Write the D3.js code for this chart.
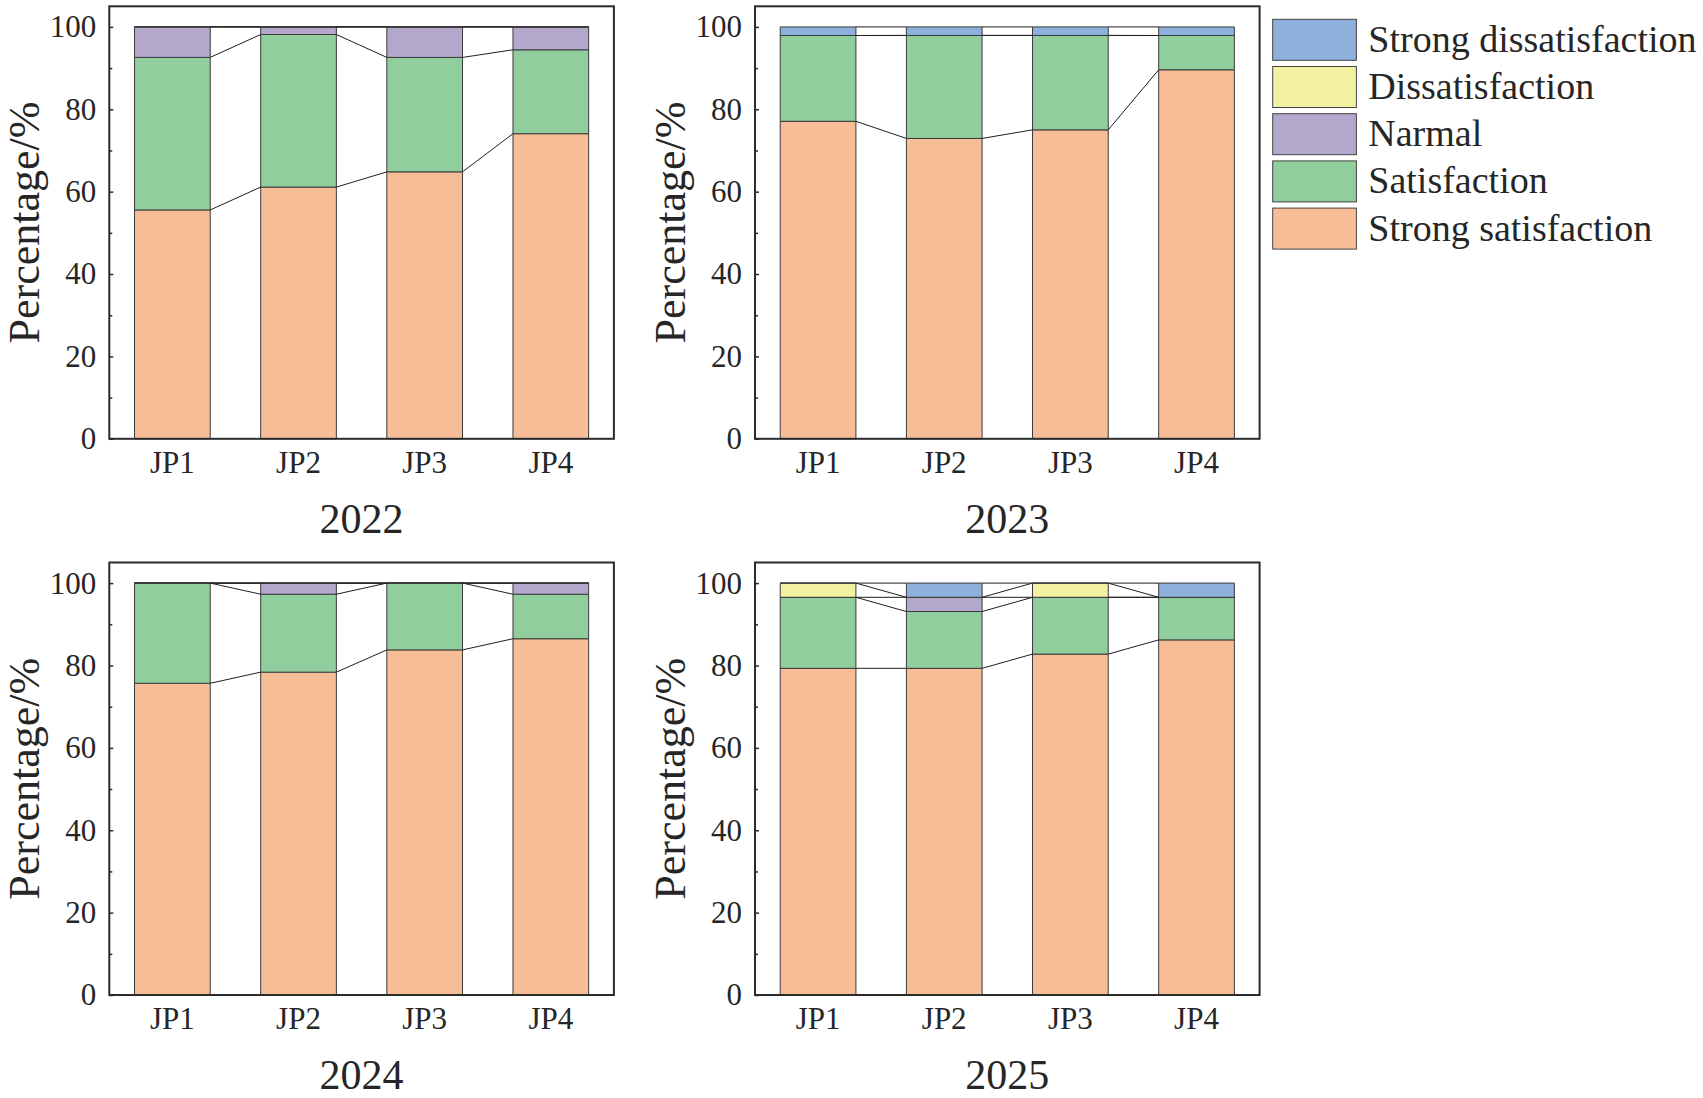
<!DOCTYPE html>
<html>
<head>
<meta charset="utf-8">
<script src="https://cdn.jsdelivr.net/npm/d3@7"></script>
<style>
  html, body { margin: 0; padding: 0; background: #ffffff; }
  svg { display: block; }
  text {
    font-family: "Liberation Serif", "Tinos", "Times New Roman", "Nimbus Roman", "Nimbus Roman No9 L",
      "FreeSerif", "DejaVu Serif", "Noto Serif", serif;
    fill: #262626;
  }
</style>
</head>
<body>
<svg id="chart" width="1703" height="1098"></svg>
<script>
/* global d3 */

// categories on x, years for each panel, and the stack levels (bottom -> top)
const groups = ['JP1', 'JP2', 'JP3', 'JP4'];
const years = ['2022', '2023', '2024', '2025'];
const levels = ['Strong satisfaction', 'Satisfaction', 'Narmal', 'Dissatisfaction', 'Strong dissatisfaction'];
const levelColors = ['#f7bd96', '#90ce9e', '#b3a8cc', '#f2f0a1', '#8db0dd'];
const yTicks = [0, 20, 40, 60, 80, 100];

// percentages per level (same order as levels), one value per JP group
const data2022 = [
  [55.56, 61.11, 64.81, 74.07],
  [37.04, 37.04, 27.78, 20.37],
  [7.41, 1.85, 7.41, 5.56],
  [0, 0, 0, 0],
  [0, 0, 0, 0],
];
const data2023 = [
  [77.08, 72.92, 75.0, 89.58],
  [20.83, 25.0, 22.92, 8.33],
  [0, 0, 0, 0],
  [0, 0, 0, 0],
  [2.08, 2.08, 2.08, 2.08],
];
const data2024 = [
  [75.68, 78.38, 83.78, 86.49],
  [24.32, 18.92, 16.22, 10.81],
  [0, 2.70, 0, 2.70],
  [0, 0, 0, 0],
  [0, 0, 0, 0],
];
const data2025 = [
  [79.31, 79.31, 82.76, 86.21],
  [17.24, 13.79, 13.79, 10.34],
  [0, 3.45, 0, 0],
  [3.45, 0, 3.45, 0],
  [0, 3.45, 0, 3.45],
];
const yearData = [data2022, data2023, data2024, data2025];

const serifFont = '"Liberation Serif", "Tinos", "Times New Roman", "Nimbus Roman", "FreeSerif", "DejaVu Serif", "Noto Serif", serif';

const svg = d3.select('#chart');

// panel boxes (frame corners)
const colLeft = [109.3, 755];
const rowTop = [6.3, 562.5];
const panelW = 504.6;
const panelH = 432.5;

function drawPanel(idx) {
  let left = colLeft[idx % 2];
  let top = rowTop[Math.floor(idx / 2)];
  let bottom = top + panelH;
  let data = yearData[idx];

  let x = d3.scaleBand()
    .domain(groups)
    .range([left, left + panelW])
    .paddingInner(0.4)
    .paddingOuter(0.2);
  let y = d3.scaleLinear().domain([0, 105]).range([bottom, top]);

  let g = svg.append('g').attr('class', 'panel' + idx);

  // build stacked rows: [{k, i, y0, y1}]
  let cum = groups.map(() => 0);
  let stacks = [];
  for (let k = 0; k < levels.length; k++) {
    let row = [];
    for (let i = 0; i < groups.length; i++) {
      let y0 = cum[i];
      let y1 = y0 + data[k][i];
      cum[i] = y1;
      row.push({ k: k, i: i, y0: y0, y1: y1 });
    }
    stacks.push(row);
  }

  // bars (paths so zero-height pieces still show their border)
  stacks.forEach((row) => {
    g.selectAll(null)
      .data(row)
      .enter()
      .append('path')
      .attr('d', (d) => {
        let bx = x(groups[d.i]);
        let bw = x.bandwidth();
        let yt = y(d.y1);
        let h = y(d.y0) - y(d.y1);
        return `M${bx},${yt}h${bw}v${h}h${-bw}Z`;
      })
      .attr('fill', (d) => levelColors[d.k])
      .attr('stroke', '#3a3a3a')
      .attr('stroke-width', 1);
  });

  // connect lines between neighbouring bars at each level top
  stacks.forEach((row) => {
    for (let i = 0; i < row.length - 1; i++) {
      g.append('line')
        .attr('x1', x(groups[i]) + x.bandwidth())
        .attr('y1', y(row[i].y1))
        .attr('x2', x(groups[i + 1]))
        .attr('y2', y(row[i + 1].y1))
        .attr('stroke', '#1f1f1f')
        .attr('stroke-width', 1);
    }
  });

  // frame
  g.append('rect')
    .attr('x', left)
    .attr('y', top)
    .attr('width', panelW)
    .attr('height', panelH)
    .attr('fill', 'none')
    .attr('stroke', '#2b2b2b')
    .attr('stroke-width', 2);

  // y axis: inward ticks, minor ticks between
  let yAxis = d3.axisLeft(y)
    .tickValues(yTicks)
    .tickSize(-4)
    .tickPadding(13)
    .tickFormat(d3.format('d'));
  let ya = g.append('g')
    .attr('transform', `translate(${left},0)`)
    .call(yAxis);
  ya.attr('font-family', null);
  ya.select('.domain').remove();
  ya.selectAll('.tick line').attr('stroke', '#2b2b2b').attr('stroke-width', 1.5);
  ya.selectAll('.tick text')
    .style('font-size', '31px')
    .style('font-family', serifFont)
    .attr('fill', '#262626');

  let minor = d3.axisLeft(y)
    .tickValues([10, 30, 50, 70, 90])
    .tickSize(-3)
    .tickFormat('');
  let ym = g.append('g')
    .attr('transform', `translate(${left},0)`)
    .call(minor);
  ym.select('.domain').remove();
  ym.selectAll('.tick line').attr('stroke', '#2b2b2b').attr('stroke-width', 1.5);

  // x axis labels
  let xAxis = d3.axisBottom(x).tickSize(0).tickPadding(12);
  let xa = g.append('g')
    .attr('transform', `translate(0,${bottom})`)
    .call(xAxis);
  xa.attr('font-family', null);
  xa.select('.domain').remove();
  xa.selectAll('.tick text')
    .style('font-size', '31px')
    .style('font-family', serifFont)
    .attr('fill', '#262626');

  // axis title
  g.append('text')
    .attr('transform', `translate(${left - 70},${top + panelH / 2}) rotate(-90)`)
    .attr('text-anchor', 'middle')
    .style('font-size', '44px')
    .text('Percentage/%');

  // year under panel
  g.append('text')
    .attr('x', left + panelW / 2)
    .attr('y', bottom + 94)
    .attr('text-anchor', 'middle')
    .style('font-size', '42px')
    .text(years[idx]);
}

for (let p = 0; p < years.length; p++) {
  drawPanel(p);
}

// legend, top entry first
let legend = svg.append('g').attr('class', 'legend');
let legendOrder = levels.map((d, i) => i).reverse();
legendOrder.forEach((k, j) => {
  let ly = 19.3 + j * 47.2;
  legend.append('rect')
    .attr('x', 1272.7)
    .attr('y', ly)
    .attr('width', 83.7)
    .attr('height', 41)
    .attr('fill', levelColors[k])
    .attr('stroke', '#444444')
    .attr('stroke-width', 1);
  legend.append('text')
    .attr('x', 1368.3)
    .attr('y', ly + 32.4)
    .style('font-size', '38px')
    .text(levels[k]);
});
</script>
</body>
</html>
